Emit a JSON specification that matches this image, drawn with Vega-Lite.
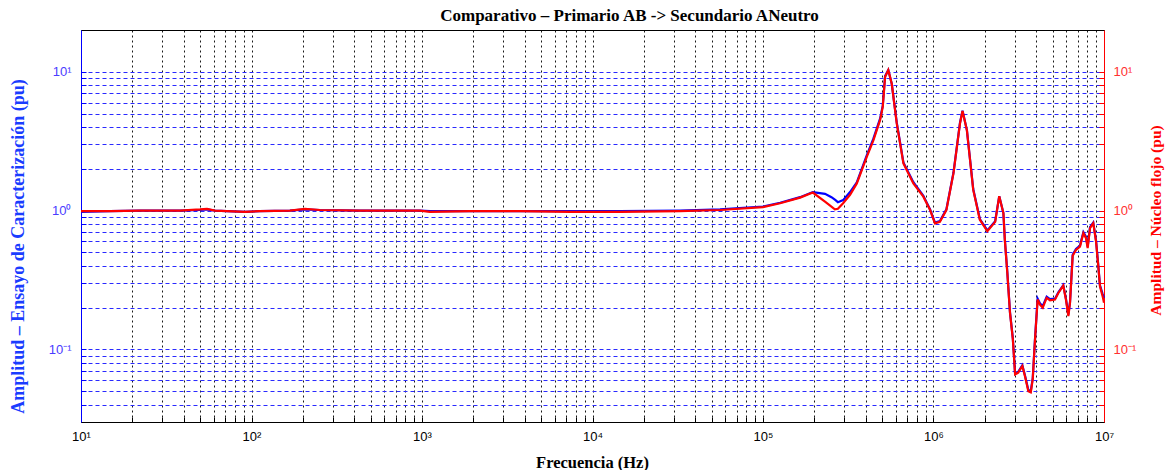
{
  "$schema": "https://vega.github.io/schema/vega-lite/v6.json",
  "width": 1023,
  "height": 392,
  "autosize": {"type": "none"},
  "padding": {"left": 81, "top": 30, "right": 65, "bottom": 48},
  "background": "white",
  "config": {"view": {"stroke": "black", "strokeWidth": 1}},
  "title": {
    "text": "Comparativo – Primario AB -> Secundario ANeutro",
    "font": "Liberation Serif",
    "fontSize": 17,
    "fontWeight": "bold",
    "color": "black",
    "anchor": "middle",
    "frame": "group",
    "offset": 5,
    "dx": 37
  },
  "datasets": {
    "ensayo": [
      {"f": 10, "a": 0.98}, {"f": 14.8, "a": 0.99}, {"f": 22.2, "a": 1.0}, {"f": 38.1, "a": 1.0},
      {"f": 49.9, "a": 1.01}, {"f": 54.8, "a": 1.02}, {"f": 61.1, "a": 1.0}, {"f": 91.6, "a": 0.98},
      {"f": 112, "a": 0.99}, {"f": 168, "a": 1.0}, {"f": 206, "a": 1.02}, {"f": 252, "a": 1.01},
      {"f": 433, "a": 1.0}, {"f": 973, "a": 1.0}, {"f": 1114, "a": 0.99}, {"f": 1914, "a": 0.99},
      {"f": 3760, "a": 0.99}, {"f": 7380, "a": 0.99}, {"f": 14500, "a": 0.99}, {"f": 32600, "a": 1.0},
      {"f": 56000, "a": 1.02}, {"f": 100000, "a": 1.07}, {"f": 126000, "a": 1.14}, {"f": 165000, "a": 1.25},
      {"f": 196000, "a": 1.36}, {"f": 231000, "a": 1.32}, {"f": 252000, "a": 1.25}, {"f": 264000, "a": 1.2},
      {"f": 275000, "a": 1.15}, {"f": 295000, "a": 1.19}, {"f": 324000, "a": 1.36}, {"f": 355000, "a": 1.6},
      {"f": 406000, "a": 2.5}, {"f": 444000, "a": 3.3}, {"f": 486000, "a": 4.6}, {"f": 504000, "a": 5.7},
      {"f": 520000, "a": 9.3}, {"f": 543000, "a": 10.3}, {"f": 569000, "a": 8.2}, {"f": 609000, "a": 4.3},
      {"f": 666000, "a": 2.22}, {"f": 762000, "a": 1.6}, {"f": 872000, "a": 1.28}, {"f": 955000, "a": 1.02},
      {"f": 1020000, "a": 0.82}, {"f": 1090000, "a": 0.84}, {"f": 1190000, "a": 1.02}, {"f": 1310000, "a": 1.88},
      {"f": 1430000, "a": 4.3}, {"f": 1480000, "a": 5.25}, {"f": 1570000, "a": 3.8}, {"f": 1710000, "a": 1.43},
      {"f": 1870000, "a": 0.87}, {"f": 2070000, "a": 0.72}, {"f": 2300000, "a": 0.84}, {"f": 2430000, "a": 1.27},
      {"f": 2570000, "a": 0.96}, {"f": 2620000, "a": 0.62}, {"f": 2710000, "a": 0.36}, {"f": 2810000, "a": 0.185},
      {"f": 2920000, "a": 0.12}, {"f": 3010000, "a": 0.067}, {"f": 3140000, "a": 0.069}, {"f": 3320000, "a": 0.077},
      {"f": 3440000, "a": 0.065}, {"f": 3600000, "a": 0.051}, {"f": 3720000, "a": 0.05}, {"f": 3820000, "a": 0.062},
      {"f": 3940000, "a": 0.12}, {"f": 4080000, "a": 0.232}, {"f": 4210000, "a": 0.215}, {"f": 4370000, "a": 0.205},
      {"f": 4610000, "a": 0.24}, {"f": 4820000, "a": 0.23}, {"f": 5160000, "a": 0.232}, {"f": 5400000, "a": 0.258},
      {"f": 5770000, "a": 0.29}, {"f": 5980000, "a": 0.232}, {"f": 6180000, "a": 0.178}, {"f": 6320000, "a": 0.22},
      {"f": 6550000, "a": 0.48}, {"f": 6850000, "a": 0.53}, {"f": 7230000, "a": 0.56}, {"f": 7570000, "a": 0.7},
      {"f": 7840000, "a": 0.65}, {"f": 8020000, "a": 0.55}, {"f": 8280000, "a": 0.76}, {"f": 8650000, "a": 0.82},
      {"f": 8980000, "a": 0.61}, {"f": 9260000, "a": 0.4}, {"f": 9470000, "a": 0.29}, {"f": 9820000, "a": 0.25},
      {"f": 10000000, "a": 0.235}
    ],
    "nucleo": [
      {"f": 10, "a": 0.99}, {"f": 14.8, "a": 0.99}, {"f": 22.2, "a": 1.0}, {"f": 38.1, "a": 1.0},
      {"f": 49.9, "a": 1.02}, {"f": 54.8, "a": 1.03}, {"f": 61.1, "a": 1.0}, {"f": 91.6, "a": 0.98},
      {"f": 112, "a": 0.99}, {"f": 168, "a": 1.0}, {"f": 206, "a": 1.03}, {"f": 252, "a": 1.01},
      {"f": 433, "a": 1.0}, {"f": 973, "a": 1.0}, {"f": 1114, "a": 0.98}, {"f": 1914, "a": 0.99},
      {"f": 3760, "a": 0.99}, {"f": 7380, "a": 0.98}, {"f": 14500, "a": 0.98}, {"f": 32600, "a": 0.99},
      {"f": 56000, "a": 1.01}, {"f": 100000, "a": 1.06}, {"f": 126000, "a": 1.13}, {"f": 165000, "a": 1.24},
      {"f": 196000, "a": 1.35}, {"f": 231000, "a": 1.16}, {"f": 264000, "a": 1.02}, {"f": 275000, "a": 1.03},
      {"f": 295000, "a": 1.13}, {"f": 324000, "a": 1.3}, {"f": 355000, "a": 1.57}, {"f": 406000, "a": 2.44},
      {"f": 444000, "a": 3.21}, {"f": 486000, "a": 4.48}, {"f": 504000, "a": 5.59}, {"f": 520000, "a": 9.17},
      {"f": 543000, "a": 10.3}, {"f": 569000, "a": 8.2}, {"f": 609000, "a": 4.23}, {"f": 666000, "a": 2.19},
      {"f": 762000, "a": 1.57}, {"f": 872000, "a": 1.26}, {"f": 955000, "a": 1.01}, {"f": 1020000, "a": 0.81},
      {"f": 1090000, "a": 0.83}, {"f": 1190000, "a": 1.01}, {"f": 1310000, "a": 1.86}, {"f": 1430000, "a": 4.24},
      {"f": 1480000, "a": 5.22}, {"f": 1570000, "a": 3.79}, {"f": 1710000, "a": 1.41}, {"f": 1870000, "a": 0.86},
      {"f": 2070000, "a": 0.71}, {"f": 2300000, "a": 0.83}, {"f": 2430000, "a": 1.27}, {"f": 2570000, "a": 0.96},
      {"f": 2620000, "a": 0.62}, {"f": 2710000, "a": 0.355}, {"f": 2810000, "a": 0.183}, {"f": 2920000, "a": 0.118},
      {"f": 3010000, "a": 0.066}, {"f": 3140000, "a": 0.068}, {"f": 3320000, "a": 0.076}, {"f": 3440000, "a": 0.064},
      {"f": 3600000, "a": 0.05}, {"f": 3720000, "a": 0.049}, {"f": 3820000, "a": 0.061}, {"f": 3940000, "a": 0.118},
      {"f": 4080000, "a": 0.229}, {"f": 4210000, "a": 0.21}, {"f": 4370000, "a": 0.2}, {"f": 4610000, "a": 0.235},
      {"f": 4820000, "a": 0.226}, {"f": 5160000, "a": 0.229}, {"f": 5400000, "a": 0.255}, {"f": 5770000, "a": 0.288},
      {"f": 5980000, "a": 0.229}, {"f": 6180000, "a": 0.174}, {"f": 6320000, "a": 0.217}, {"f": 6550000, "a": 0.473},
      {"f": 6850000, "a": 0.52}, {"f": 7230000, "a": 0.551}, {"f": 7570000, "a": 0.688}, {"f": 7840000, "a": 0.633},
      {"f": 8020000, "a": 0.537}, {"f": 8280000, "a": 0.748}, {"f": 8650000, "a": 0.812}, {"f": 8980000, "a": 0.599},
      {"f": 9260000, "a": 0.396}, {"f": 9470000, "a": 0.285}, {"f": 9820000, "a": 0.241}, {"f": 10000000, "a": 0.217}
    ]
  },
  "encoding": {
    "x": {
      "field": "f",
      "type": "quantitative",
      "scale": {"type": "log", "domain": [10, 10000000], "nice": false},
      "axis": {
        "title": "Frecuencia (Hz)",
        "titleFont": "Liberation Serif",
        "titleFontSize": 16.5,
        "titleFontWeight": "bold",
        "titleColor": "black",
        "titleX": 511,
        "titleY": 40,
        "titleBaseline": "middle",
        "titleAlign": "center",
        "values": [10,20,30,40,50,60,70,80,90,100,200,300,400,500,600,700,800,900,1000,2000,3000,4000,5000,6000,7000,8000,9000,10000,20000,30000,40000,50000,60000,70000,80000,90000,100000,200000,300000,400000,500000,600000,700000,800000,900000,1000000,2000000,3000000,4000000,5000000,6000000,7000000,8000000,9000000,10000000],
        "labelExpr": "datum.value == 10 ? '10¹' : datum.value == 100 ? '10²' : datum.value == 1000 ? '10³' : datum.value == 10000 ? '10⁴' : datum.value == 100000 ? '10⁵' : datum.value == 1000000 ? '10⁶' : datum.value == 10000000 ? '10⁷' : ''",
        "labelFont": "Liberation Sans",
        "labelFontSize": 13,
        "labelColor": "black",
        "labelFlush": false,
        "labelOverlap": false,
        "labelPadding": 13,
        "labelBound": false,
        "tickSize": -5,
        "tickColor": "black",
        "domainColor": "black",
        "grid": true,
        "gridColor": "black",
        "gridDash": [2, 3],
        "gridWidth": 1,
        "gridOpacity": 0.9
      }
    }
  },
  "layer": [
    {
      "data": {"name": "ensayo"},
      "mark": {"type": "line", "color": "#0000ff", "strokeWidth": 2.2},
      "encoding": {
        "y": {
          "field": "a",
          "type": "quantitative",
          "scale": {"type": "log", "domain": [0.03, 20], "nice": false},
          "axis": {
            "orient": "left",
            "title": "Amplitud – Ensayo de Caracterización (pu)",
            "titleFont": "Liberation Serif",
            "titleFontSize": 18,
            "titleFontWeight": "bold",
            "titleColor": "#1a3cff",
            "titleAngle": 270,
            "titleX": -63,
            "titleY": 216,
            "titleAlign": "center",
            "titleBaseline": "middle",
            "values": [0.04,0.05,0.06,0.07,0.08,0.09,0.1,0.2,0.3,0.4,0.5,0.6,0.7,0.8,0.9,1,2,3,4,5,6,7,8,9,10],
            "labelExpr": "datum.value == 0.1 ? '10⁻¹' : datum.value == 1 ? '10⁰' : datum.value == 10 ? '10¹' : ''",
            "labelFont": "Liberation Sans",
            "labelFontSize": 13,
            "labelColor": "#4a3cff",
            "labelPadding": 15,
            "labelOverlap": false,
            "labelBound": false,
            "tickSize": -5,
            "tickColor": "#0000ff",
            "domainColor": "#0000ff",
            "grid": true,
            "gridColor": "#2a2aff",
            "gridDash": [4, 3],
            "gridWidth": 1
          }
        }
      }
    },
    {
      "data": {"name": "nucleo"},
      "mark": {"type": "line", "color": "#ff0000", "strokeWidth": 2.2},
      "encoding": {
        "y": {
          "field": "a",
          "type": "quantitative",
          "scale": {"type": "log", "domain": [0.03, 20], "nice": false},
          "axis": {
            "orient": "right",
            "title": "Amplitud – Núcleo flojo (pu)",
            "titleFont": "Liberation Serif",
            "titleFontSize": 15.5,
            "titleFontWeight": "bold",
            "titleColor": "#ff0000",
            "titleAngle": 270,
            "titleX": 51,
            "titleY": 190,
            "titleAlign": "center",
            "titleBaseline": "middle",
            "values": [0.04,0.05,0.06,0.07,0.08,0.09,0.1,0.2,0.3,0.4,0.5,0.6,0.7,0.8,0.9,1,2,3,4,5,6,7,8,9,10],
            "labelExpr": "datum.value == 0.1 ? '10⁻¹' : datum.value == 1 ? '10⁰' : datum.value == 10 ? '10¹' : ''",
            "labelFont": "Liberation Sans",
            "labelFontSize": 13,
            "labelColor": "#ff3030",
            "labelPadding": 14,
            "labelOverlap": false,
            "labelBound": false,
            "tickSize": -5,
            "tickColor": "#ff0000",
            "domainColor": "#ff0000",
            "grid": false
          }
        }
      }
    }
  ],
  "resolve": {"scale": {"y": "independent"}, "axis": {"y": "independent"}}
}
